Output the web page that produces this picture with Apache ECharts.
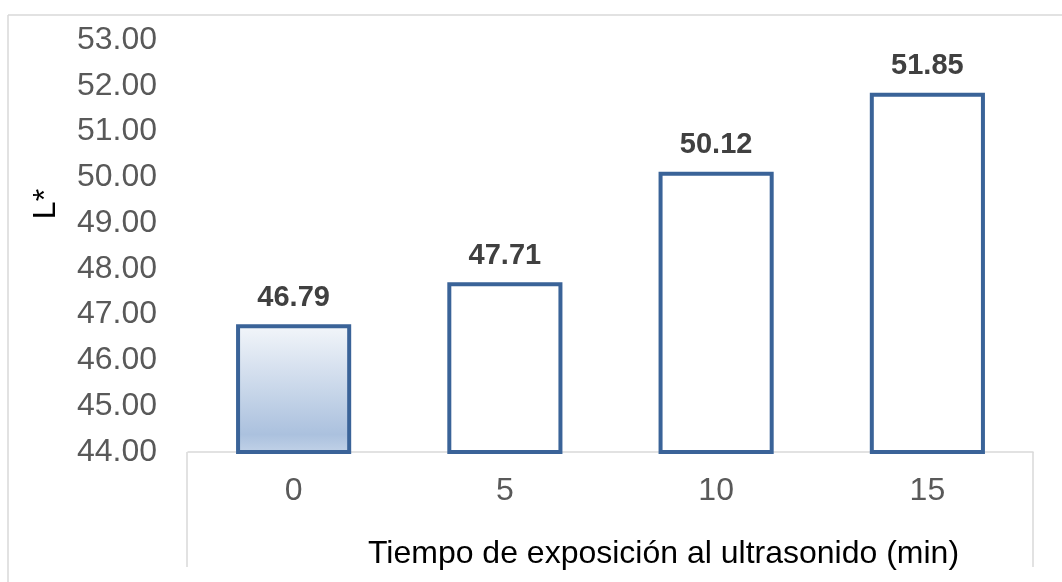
<!DOCTYPE html>
<html>
<head>
<meta charset="utf-8">
<script src="https://cdn.jsdelivr.net/npm/echarts@6/dist/echarts.min.js"></script>
<style>
  html, body { margin: 0; padding: 0; background: #ffffff; }
  #chart { width: 1062px; height: 582px; }
</style>
</head>
<body>
<div id="chart"></div>
<script>
// Exposure time categories (min) and mean L* values
const categories = ['0', '5', '10', '15'];
const lightness = [46.79, 47.71, 50.12, 51.85];

// Value axis range
const yMin = 44;
const yMax = 53;
const yStep = 1;

const FONT = '"Liberation Sans", Arial, sans-serif';
const EDGE = '#3a6398';
const FRAME = '#d9d9d9';

const chart = echarts.init(document.getElementById('chart'), null, { renderer: 'canvas' });

// The first bar gets a soft blue gradient, the others stay hollow
const barData = lightness.map((v, i) => ({
  value: v,
  itemStyle: i === 0 ? {
    color: new echarts.graphic.LinearGradient(0, 0, 0, 1, [
      { offset: 0, color: '#f3f6fa' },
      { offset: 0.85, color: '#abc1de' },
      { offset: 1, color: '#c3d3e8' }
    ])
  } : { color: '#ffffff' }
}));

chart.setOption({
  animation: false,
  backgroundColor: '#ffffff',
  textStyle: { fontFamily: FONT },
  grid: { left: 188, right: 29, top: 40, bottom: 130, containLabel: false },
  xAxis: {
    type: 'category',
    data: categories,
    name: 'Tiempo de exposición al ultrasonido (min)',
    nameLocation: 'middle',
    nameGap: 86,
    nameTextStyle: { color: '#000000', fontSize: 32, fontFamily: FONT, padding: [0, 0, 0, 106] },
    axisLine: { show: true, lineStyle: { color: FRAME, width: 1.5 } },
    axisTick: { show: false },
    axisLabel: { color: '#595959', fontSize: 32, fontFamily: FONT, margin: 23 },
    splitLine: { show: false }
  },
  yAxis: {
    type: 'value',
    min: yMin,
    max: yMax,
    interval: yStep,
    name: 'L*',
    nameLocation: 'middle',
    nameGap: 126,
    nameRotate: 90,
    nameTextStyle: { color: '#000000', fontSize: 32, fontFamily: FONT, padding: [0, 0, 0, 84] },
    axisLine: { show: false },
    axisTick: { show: false },
    splitLine: { show: false },
    axisLabel: {
      color: '#595959', fontSize: 32, fontFamily: FONT, margin: 31,
      formatter: v => v.toFixed(2)
    }
  },
  series: [{
    type: 'bar',
    data: barData,
    barWidth: '54.5%',
    itemStyle: { borderColor: EDGE, borderWidth: 4 },
    label: {
      show: true,
      position: 'top',
      distance: 12,
      color: '#404040',
      fontSize: 29,
      fontWeight: 'bold',
      fontFamily: FONT,
      formatter: p => p.value.toFixed(2)
    }
  }],
  graphic: [
    // outer chart frame (top and left edges)
    { type: 'line', shape: { x1: 8, y1: 15, x2: 1062, y2: 15 }, style: { stroke: FRAME, lineWidth: 1.5 }, silent: true },
    { type: 'line', shape: { x1: 8, y1: 15, x2: 8, y2: 582 }, style: { stroke: FRAME, lineWidth: 1.5 }, silent: true },
    // side rules below the category axis
    { type: 'line', shape: { x1: 187, y1: 452, x2: 187, y2: 567 }, style: { stroke: FRAME, lineWidth: 1.5 }, silent: true },
    { type: 'line', shape: { x1: 1033, y1: 452, x2: 1033, y2: 567 }, style: { stroke: FRAME, lineWidth: 1.5 }, silent: true }
  ]
});
</script>
</body>
</html>
